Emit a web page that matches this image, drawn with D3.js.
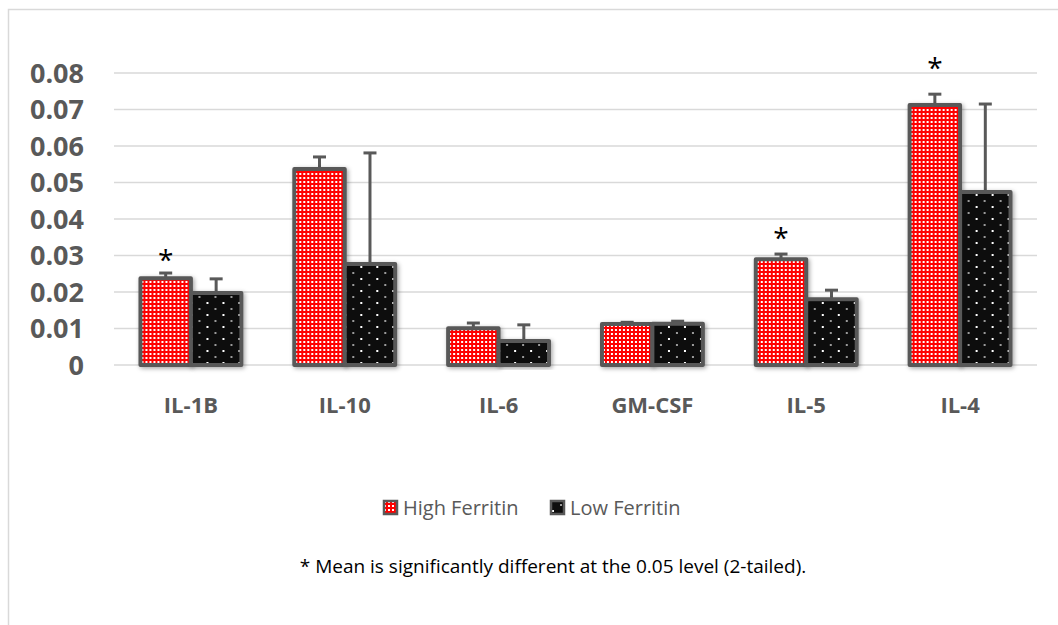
<!DOCTYPE html>
<html>
<head>
<meta charset="utf-8">
<script src="https://cdn.jsdelivr.net/npm/d3@7"></script>
<style>
  body { margin: 0; background: #fff; }
  svg { display: block; font-family: "Open Sans", sans-serif; }
</style>
</head>
<body>
<div id="chart"></div>
<script>
// cytokine means by ferritin group
var categories = ["IL-1B", "IL-10", "IL-6", "GM-CSF", "IL-5", "IL-4"];
var highFerritin = [0.0238, 0.0537, 0.0101, 0.0112, 0.0290, 0.0712];
var lowFerritin = [0.0197, 0.0277, 0.0066, 0.0113, 0.0180, 0.0474];
var highErr = [0.0014, 0.0033, 0.0014, 0.0005, 0.0014, 0.0030];
var lowErr = [0.0039, 0.0304, 0.0044, 0.0007, 0.0025, 0.0241];
// asterisk marks (significant groups), height in data units
var sigLevel = [0.0318, null, null, null, 0.0378, 0.0844];
var yTicks = [0, 0.01, 0.02, 0.03, 0.04, 0.05, 0.06, 0.07, 0.08];
var seriesNames = ["High Ferritin", "Low Ferritin"];

var W = 1058, H = 625;
var plot = {left: 114, right: 1037, top: 73, bottom: 365};
var grey = "#595959";

var svg = d3.select("#chart").append("svg")
    .attr("width", W)
    .attr("height", H);

var defs = svg.append("defs");

// red/white small checkerboard
var pr = defs.append("pattern")
    .attr("id", "checker")
    .attr("patternUnits", "userSpaceOnUse")
    .attr("width", 4).attr("height", 4);
pr.append("rect").attr("width", 4).attr("height", 4).attr("fill", "#ff0000");
pr.append("rect").attr("x", 1).attr("y", 1).attr("width", 2).attr("height", 2).attr("fill", "#fff");

// black with sparse dots
var pb = defs.append("pattern")
    .attr("id", "dots")
    .attr("patternUnits", "userSpaceOnUse")
    .attr("width", 16).attr("height", 12);
pb.append("rect").attr("width", 16).attr("height", 12).attr("fill", "#0d0d0d");
pb.append("rect").attr("x", 2).attr("y", 2).attr("width", 2).attr("height", 2).attr("fill", "#ffffff");
pb.append("rect").attr("x", 10).attr("y", 8).attr("width", 2).attr("height", 2).attr("fill", "#9a9a9a");

var shadow = defs.append("filter").attr("id", "shadow")
    .attr("x", "-20%").attr("y", "-20%").attr("width", "140%").attr("height", "140%");
shadow.append("feDropShadow")
    .attr("dx", 1.5).attr("dy", 1.5).attr("stdDeviation", 2)
    .attr("flood-color", "#000").attr("flood-opacity", 0.35);

// chart area border (only top/left visible)
svg.append("rect")
    .attr("x", 8.5).attr("y", 9.5)
    .attr("width", 1200).attr("height", 800)
    .attr("fill", "none")
    .attr("stroke", "#d9d9d9")
    .attr("stroke-width", 1.5);

var x0 = d3.scaleBand()
    .domain(categories)
    .range([plot.left, plot.right])
    .paddingInner(0.344)
    .paddingOuter(0.172);

var x1 = d3.scaleBand()
    .domain(seriesNames)
    .range([0, x0.bandwidth()]);

var y = d3.scaleLinear()
    .domain([0, 0.08])
    .range([plot.bottom, plot.top]);

// gridlines
svg.append("g")
    .selectAll("line")
    .data(yTicks)
    .enter()
    .append("line")
      .attr("x1", plot.left)
      .attr("x2", plot.right)
      .attr("y1", function(d) { return y(d); })
      .attr("y2", function(d) { return y(d); })
      .attr("stroke", "#d9d9d9")
      .attr("stroke-width", 1.5);

// y axis labels
var yAxis = svg.append("g")
    .attr("transform", "translate(84,0)")
    .call(d3.axisLeft(y).tickValues(yTicks).tickSize(0).tickPadding(0)
        .tickFormat(function(d) { return d === 0 ? "0" : d3.format(".2f")(d); }));
yAxis.select(".domain").remove();
yAxis.selectAll("text")
    .attr("fill", grey)
    .attr("font-family", "'Open Sans', sans-serif")
    .attr("font-size", "27px")
    .attr("font-weight", "bold")
    .attr("dy", "0.35em");

// x axis labels
var xAxis = svg.append("g")
    .attr("transform", "translate(0," + plot.bottom + ")")
    .call(d3.axisBottom(x0).tickSize(0).tickPadding(0));
xAxis.select(".domain").remove();
xAxis.selectAll("text")
    .attr("fill", grey)
    .attr("font-family", "'Open Sans', sans-serif")
    .attr("font-size", "22px")
    .attr("font-weight", "bold")
    .attr("y", 48)
    .attr("dy", "0");

var rows = categories.map(function(c, i) {
    return [
        {cat: c, s: seriesNames[0], v: highFerritin[i], e: highErr[i], fill: "url(#checker)"},
        {cat: c, s: seriesNames[1], v: lowFerritin[i], e: lowErr[i], fill: "url(#dots)"}
    ];
});

var groups = svg.append("g").selectAll("g")
    .data(rows)
    .enter()
    .append("g")
      .attr("transform", function(d) { return "translate(" + x0(d[0].cat) + ",0)"; });

// error bars go behind bars
groups.selectAll("line.err")
    .data(function(d) { return d; })
    .enter()
    .append("line")
      .attr("class", "err")
      .attr("x1", function(d) { return x1(d.s) + x1.bandwidth() / 2; })
      .attr("x2", function(d) { return x1(d.s) + x1.bandwidth() / 2; })
      .attr("y1", function(d) { return y(d.v); })
      .attr("y2", function(d) { return y(d.v + d.e); })
      .attr("stroke", grey)
      .attr("stroke-width", 3);

groups.selectAll("line.cap")
    .data(function(d) { return d; })
    .enter()
    .append("line")
      .attr("class", "cap")
      .attr("x1", function(d) { return x1(d.s) + x1.bandwidth() / 2 - 6.5; })
      .attr("x2", function(d) { return x1(d.s) + x1.bandwidth() / 2 + 6.5; })
      .attr("y1", function(d) { return y(d.v + d.e); })
      .attr("y2", function(d) { return y(d.v + d.e); })
      .attr("stroke", grey)
      .attr("stroke-width", 3);

groups.selectAll("rect")
    .data(function(d) { return d; })
    .enter()
    .append("rect")
      .attr("x", function(d) { return x1(d.s); })
      .attr("y", function(d) { return y(d.v); })
      .attr("width", x1.bandwidth())
      .attr("height", function(d) { return y(0) - y(d.v); })
      .attr("fill", function(d) { return d.fill; })
      .attr("stroke", grey)
      .attr("stroke-width", 4)
      .attr("stroke-linejoin", "round")
      .attr("filter", "url(#shadow)");

// significance asterisks
svg.append("g").selectAll("text")
    .data(categories.filter(function(c, i) { return sigLevel[i] !== null; }))
    .enter()
    .append("text")
      .attr("x", function(c) { return x0(c) + x1(seriesNames[0]) + x1.bandwidth() / 2; })
      .attr("y", function(c) { return y(sigLevel[categories.indexOf(c)]); })
      .attr("dy", "0.75em")
      .attr("text-anchor", "middle")
      .attr("font-size", "28px")
      .attr("fill", "#000")
      .text("*");

// legend
var legend = svg.append("g").attr("transform", "translate(383,508)");
var legendFills = ["url(#checker)", "url(#dots)"];
var legendX = [0, 167];
seriesNames.forEach(function(name, i) {
    var g = legend.append("g").attr("transform", "translate(" + legendX[i] + ",0)");
    g.append("rect")
        .attr("x", 1).attr("y", -7)
        .attr("width", 13).attr("height", 13)
        .attr("fill", legendFills[i])
        .attr("stroke", grey)
        .attr("stroke-width", 2.5);
    g.append("text")
        .attr("x", 20)
        .attr("y", 0)
        .attr("dy", "0.35em")
        .attr("font-size", "20px")
        .attr("fill", grey)
        .text(name);
});

// footnote
svg.append("text")
    .attr("x", 553)
    .attr("y", 566)
    .attr("dy", "0.35em")
    .attr("text-anchor", "middle")
    .attr("font-size", "19px")
    .attr("fill", "#000")
    .text("* Mean is significantly different at the 0.05 level (2-tailed).");
</script>
</body>
</html>
